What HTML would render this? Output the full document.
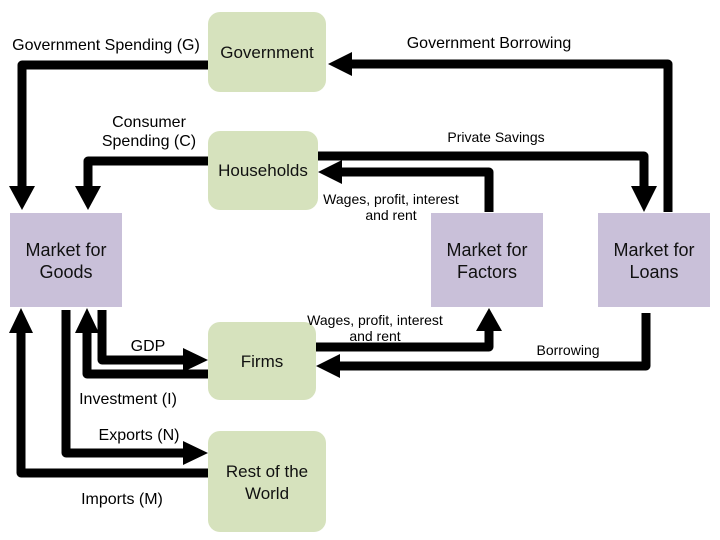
<!DOCTYPE html>
<html><head><meta charset="utf-8"><style>
html,body{margin:0;padding:0;background:#fff;}
svg{display:block;font-family:"Liberation Sans",Arial,sans-serif;}
</style></head><body>
<svg width="720" height="540" viewBox="0 0 720 540" xmlns="http://www.w3.org/2000/svg">
<g fill="none" stroke="#000" stroke-width="9" stroke-linejoin="round">
<polyline points="208,65 22,65 22,188"/>
<polyline points="668,212 668,64 350,64"/>
<polyline points="208,161 88,161 88,188"/>
<polyline points="318,156 644,156 644,188"/>
<polyline points="489,212 489,172 340,172"/>
<polyline points="316,347 489,347 489,330"/>
<polyline points="646,313 646,366 338,366"/>
<polyline points="102,310 102,360 185,360"/>
<polyline points="208,374 87,374 87,331"/>
<polyline points="66,310 66,453 185,453"/>
<polyline points="208,473 21,473 21,331"/>
</g>
<g fill="#000">
<polygon points="9,186 35,186 22,210"/>
<polygon points="75,186 101,186 88,210"/>
<polygon points="631,186 657,186 644,212"/>
<polygon points="352,52 352,76 328,64"/>
<polygon points="342,160 342,184 318,172"/>
<polygon points="340,354 340,378 316,366"/>
<polygon points="476,331 502,331 489,308"/>
<polygon points="183,348 183,372 208,360"/>
<polygon points="183,441 183,465 208,453"/>
<polygon points="75,333 99,333 87,308"/>
<polygon points="9,333 33,333 21,308"/>
</g>
<g fill="#d6e2bd">
<rect x="208" y="12" width="118" height="80" rx="12"/>
<rect x="208" y="131" width="110" height="79" rx="12"/>
<rect x="208" y="322" width="108" height="78" rx="12"/>
<rect x="208" y="431" width="118" height="101" rx="12"/>
</g>
<g fill="#c9c0d9">
<rect x="10" y="213" width="112" height="94"/>
<rect x="431" y="213" width="112" height="94"/>
<rect x="598" y="213" width="112" height="94"/>
</g>
<g font-size="17" text-anchor="middle" fill="#111">
<text x="267" y="58">Government</text>
<text x="263" y="176">Households</text>
<text x="262" y="367">Firms</text>
<text x="267" y="477">Rest of the</text>
<text x="267" y="499">World</text>
</g>
<g font-size="18" text-anchor="middle" fill="#111">
<text x="66" y="256">Market for</text>
<text x="66" y="278">Goods</text>
<text x="487" y="256">Market for</text>
<text x="487" y="278">Factors</text>
<text x="654" y="256">Market for</text>
<text x="654" y="278">Loans</text>
</g>
<g font-size="16" text-anchor="middle" fill="#000">
<text x="106" y="50">Government Spending (G)</text>
<text x="489" y="48">Government Borrowing</text>
<text x="149" y="127">Consumer</text>
<text x="149" y="146">Spending (C)</text>
<text x="148" y="351">GDP</text>
<text x="128" y="404">Investment (I)</text>
<text x="139" y="440">Exports (N)</text>
<text x="122" y="504">Imports (M)</text>
</g>
<g font-size="14" text-anchor="middle" fill="#000">
<text x="496" y="142">Private Savings</text>
<text x="391" y="204">Wages, profit, interest</text>
<text x="391" y="220">and rent</text>
<text x="375" y="325">Wages, profit, interest</text>
<text x="375" y="341">and rent</text>
<text x="568" y="355">Borrowing</text>
</g>
</svg>
</body></html>
